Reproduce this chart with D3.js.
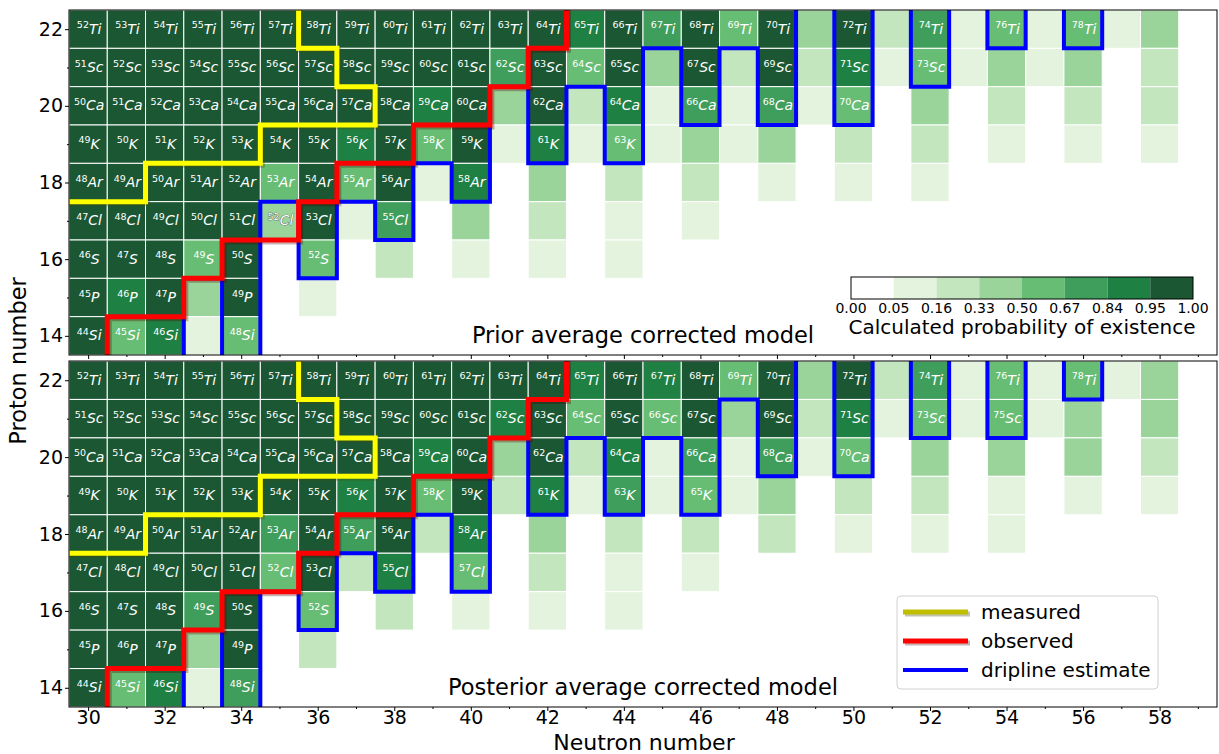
<!DOCTYPE html>
<html>
<head>
<meta charset="utf-8">
<script src="https://cdn.jsdelivr.net/npm/d3@7"></script>
<style>
body { margin: 0; background: #fff; }
text { font-family: "DejaVu Sans", sans-serif; }
</style>
</head>
<body>
<svg width="1219" height="754"></svg>
<script>
// neutron numbers of the columns, proton numbers of the rows
var neutrons = [30,31,32,33,34,35,36,37,38,39,40,41,42,43,44,45,46,47,48,49,50,51,52,53,54,55,56,57,58]
var protons = [22,21,20,19,18,17,16,15,14]
var elements = {14: 'Si', 15: 'P', 16: 'S', 17: 'Cl', 18: 'Ar', 19: 'K', 20: 'Ca', 21: 'Sc', 22: 'Ti'}

var binEdges = [0, 0.05, 0.16, 0.33, 0.50, 0.67, 0.84, 0.95, 1.00]
var binColors = ['#ffffff', '#e3f3dd', '#c3e6bf', '#9ad49a', '#67bd73', '#3f9e5b', '#1f8043', '#1b5733']

// probability of existence, prior model, one array per element (N = 30..58)
var priorTi = [.99,.99,.99,.99,.99,.99,.99,.99,.99,.99,.99,.99,.99,.9,.99,.75,.99,.6,.99,.4,.99,.25,.75,.1,.6,.1,.6,.1,.4]
var priorSc = [.99,.99,.99,.99,.99,.99,.99,.99,.99,.99,.99,.75,.99,.6,.99,.4,.99,.25,.99,.25,.9,.1,.6,.1,.4,.1,.4,0,.25]
var priorCa = [.99,.99,.99,.99,.99,.99,.99,.99,.99,.9,.99,.4,.99,.25,.9,.1,.75,.1,.75,.1,.6,0,.4,0,.25,0,.25,0,.25]
var priorK  = [.99,.99,.99,.99,.99,.99,.99,.9,.99,.6,.99,.1,.9,.1,.6,.1,.4,.1,.4,0,.25,0,.25,0,.1,0,.1,0,.1]
var priorAr = [.99,.99,.99,.99,.99,.6,.99,.6,.99,.1,.9,0,.4,0,.25,0,.25,0,.1,0,.1,0,.1,0,0,0,0,0,0]
var priorCl = [.99,.99,.99,.99,.99,.48,.99,.1,.75,0,.4,0,.25,0,.1,0,.1,0,0,0,0,0,0,0,0,0,0,0,0]
var priorS  = [.99,.99,.99,.6,.99,0,.6,0,.25,0,.1,0,.1,0,.1,0,0,0,0,0,0,0,0,0,0,0,0,0,0]
var priorP  = [.99,.9,.99,.4,.99,0,.1,0,0,0,0,0,0,0,0,0,0,0,0,0,0,0,0,0,0,0,0,0,0]
var priorSi = [.99,.6,.9,.1,.6,0,0,0,0,0,0,0,0,0,0,0,0,0,0,0,0,0,0,0,0,0,0,0,0]

// posterior model
var postTi = [.99,.99,.99,.99,.99,.99,.99,.99,.99,.99,.99,.99,.99,.9,.99,.9,.99,.6,.99,.4,.99,.25,.75,.1,.6,.1,.6,.1,.4]
var postSc = [.99,.99,.99,.99,.99,.99,.99,.99,.99,.99,.99,.9,.99,.6,.99,.6,.99,.4,.99,.25,.9,.1,.6,.1,.6,.1,.4,0,.4]
var postCa = [.99,.99,.99,.99,.99,.99,.99,.99,.99,.9,.99,.4,.99,.25,.9,.1,.75,.1,.75,.1,.6,0,.4,0,.4,0,.4,0,.25]
var postK  = [.99,.99,.99,.99,.99,.99,.99,.9,.99,.6,.99,.25,.9,.1,.75,.1,.6,.1,.4,0,.25,0,.25,0,.1,0,.1,0,.1]
var postAr = [.99,.99,.99,.99,.99,.75,.99,.75,.99,.25,.9,0,.4,0,.25,0,.25,0,.25,0,.1,0,.1,0,.1,0,0,0,0]
var postCl = [.99,.99,.99,.99,.99,.6,.99,.25,.9,0,.6,0,.25,0,.1,0,.1,0,0,0,0,0,0,0,0,0,0,0,0]
var postS  = [.99,.99,.99,.75,.99,0,.6,0,.25,0,.1,0,.1,0,.1,0,0,0,0,0,0,0,0,0,0,0,0,0,0]
var postP  = [.99,.99,.99,.4,.99,0,.25,0,0,0,0,0,0,0,0,0,0,0,0,0,0,0,0,0,0,0,0,0,0]
var postSi = [.99,.6,.9,.1,.75,0,0,0,0,0,0,0,0,0,0,0,0,0,0,0,0,0,0,0,0,0,0,0,0]

// lowest bound proton number for each N (13 = below the chart, 23 = none shown)
var priorDrip = [13,13,13,16,13,18,16,18,17,19,18,21,19,21,19,22,20,22,20,23,20,23,21,23,22,23,22,23,23]
var postDrip  = [13,13,13,16,13,17,16,18,17,19,17,21,19,21,19,21,19,22,20,23,20,23,21,23,21,23,22,23,23]

// [N, Z] corners of the measured and observed boundaries
var measuredLine = [[29,17.5],[31.5,17.5],[31.5,18.5],[34.5,18.5],[34.5,19.5],[37.5,19.5],[37.5,20.5],[36.5,20.5],[36.5,21.5],[35.5,21.5],[35.5,23]]
var observedLine = [[30.5,13],[30.5,14.5],[32.5,14.5],[32.5,15.5],[33.5,15.5],[33.5,16.5],[35.5,16.5],[35.5,17.5],[36.5,17.5],[36.5,18.5],[38.5,18.5],[38.5,19.5],[40.5,19.5],[40.5,20.5],[41.5,20.5],[41.5,21.5],[42.5,21.5],[42.5,23]]

var priorExtraLabels = [[35, 17]]

var svg = d3.select('svg')
var mapX = d3.scaleLinear().domain([29.5, 59.5]).range([69, 1217])
var colorOf = d3.scaleThreshold().domain(binEdges.slice(1, 8)).range(binColors)

var panels = [
    {title: 'Prior average corrected model', top: 10, bottom: 355, drip: priorDrip, extra: priorExtraLabels,
     rows: [priorTi, priorSc, priorCa, priorK, priorAr, priorCl, priorS, priorP, priorSi]},
    {title: 'Posterior average corrected model', top: 361, bottom: 707, drip: postDrip, extra: [],
     rows: [postTi, postSc, postCa, postK, postAr, postCl, postS, postP, postSi]}
]

function shade(c) {
    var r = d3.rgb(c)
    return d3.rgb(r.r * 0.3, r.g * 0.3, r.b * 0.3)
}

panels.forEach(function(p, k){
    var mapY = d3.scaleLinear().domain([13.5, 22.5]).range([p.bottom, p.top])
    var g = svg.append('g')

    svg.append('clipPath').attr('id', 'clip' + k)
        .append('rect')
        .attr('x', mapX(29.5)).attr('y', p.top)
        .attr('width', mapX(59.5) - mapX(29.5)).attr('height', p.bottom - p.top)

    var cells = []
    p.rows.forEach(function(vals, r){
        vals.forEach(function(v, i){
            if (v > 0) cells.push({n: neutrons[i], z: protons[r], p: v, i: i})
        })
    })

    g.selectAll('rect.cell')
        .data(cells)
        .enter()
        .append('rect')
        .attr('x', function(d){ return mapX(d.n - 0.5) })
        .attr('y', function(d){ return mapY(d.z + 0.5) })
        .attr('width', function(d){ return mapX(d.n + 0.5) - mapX(d.n - 0.5) })
        .attr('height', function(d){ return mapY(d.z - 0.5) - mapY(d.z + 0.5) })
        .attr('fill', function(d){ return colorOf(d.p) })
        .attr('stroke', '#ffffff')
        .attr('stroke-width', 1)

    // labels for bound nuclei
    var labelled = cells.filter(function(d){ return d.z >= p.drip[d.i] })
    p.extra.forEach(function(e){
        labelled.push({n: e[0], z: e[1], halo: true})
    })

    var labs = g.selectAll('text.lab')
        .data(labelled)
        .enter()
        .append('text')
        .attr('x', function(d){ return mapX(d.n) + 1 })
        .attr('y', function(d){ return mapY(d.z) + 4.5 })
        .attr('text-anchor', 'middle')
        .attr('fill', '#ffffff')
        .attr('stroke', function(d){ return d.halo ? '#3a3a3a' : 'none' })
        .attr('stroke-width', 0.7)
        .style('paint-order', 'stroke')
    labs.append('tspan')
        .attr('font-size', 9.5)
        .attr('dy', -5.5)
        .text(function(d){ return d.n + d.z })
    labs.append('tspan')
        .attr('font-size', 14)
        .attr('font-style', 'italic')
        .attr('dy', 5.5)
        .text(function(d){ return elements[d.z] })

    // boundary lines
    var line = d3.line()
        .x(function(d){ return mapX(d[0]) })
        .y(function(d){ return mapY(d[1]) })

    var dripPts = []
    neutrons.forEach(function(n, i){
        var zb = p.drip[i] - 0.5
        if (p.drip[i] <= 13) zb = 12
        if (p.drip[i] >= 23) zb = 24
        dripPts.push([n - 0.5, zb], [n + 0.5, zb])
    })

    var lines = g.append('g').attr('clip-path', 'url(#clip' + k + ')')

    lines.append('path')
        .attr('d', line(dripPts))
        .attr('fill', 'none')
        .attr('stroke', '#0000ff')
        .attr('stroke-width', 4)
        .attr('stroke-linejoin', 'miter')

    ;[[observedLine, '#ff0000'], [measuredLine, '#ffff00']].forEach(function(l){
        lines.append('path')
            .attr('d', line(l[0]))
            .attr('transform', 'translate(2,2)')
            .attr('fill', 'none')
            .attr('stroke', shade(l[1]))
            .attr('stroke-opacity', 0.3)
            .attr('stroke-width', 5)
        lines.append('path')
            .attr('d', line(l[0]))
            .attr('fill', 'none')
            .attr('stroke', l[1])
            .attr('stroke-width', 5)
            .attr('stroke-linejoin', 'miter')
    })

    // axes
    var yMajor = d3.axisLeft(mapY).tickValues([14, 16, 18, 20, 22]).tickSize(4).tickPadding(2).tickFormat(d3.format('d'))
    var yMinor = d3.axisLeft(mapY).tickValues([15, 17, 19, 21]).tickSize(2).tickFormat('')
    var xMajor = d3.axisBottom(mapX).tickValues(d3.range(30, 59, 2)).tickSize(4)
        .tickFormat(k == 1 ? d3.format('d') : '')
    var xMinor = d3.axisBottom(mapX).tickValues(d3.range(31, 60, 2)).tickSize(2).tickFormat('')

    ;[yMajor, yMinor].forEach(function(a){
        g.append('g').attr('transform', 'translate(' + mapX(29.5) + ',0)').call(a)
    })
    var xg = g.append('g').attr('transform', 'translate(0,' + p.bottom + ')').call(xMajor)
    g.append('g').attr('transform', 'translate(0,' + p.bottom + ')').call(xMinor)
    xg.selectAll('.tick text').attr('y', 17).attr('dy', 0)

    g.selectAll('.domain').remove()
    g.selectAll('.tick text')
        .attr('font-size', 19)
        .attr('font-family', 'DejaVu Sans')
        .attr('fill', '#000')

    g.append('rect')
        .attr('x', mapX(29.5)).attr('y', p.top)
        .attr('width', mapX(59.5) - mapX(29.5)).attr('height', p.bottom - p.top)
        .attr('fill', 'none')
        .attr('stroke', '#000')
        .attr('stroke-width', 1)

    g.append('text')
        .attr('x', 643)
        .attr('y', k == 0 ? 343 : 695)
        .attr('text-anchor', 'middle')
        .attr('font-size', 22.5)
        .text(p.title)
})

// colour bar
var cbX = d3.scaleLinear().domain([0, 8]).range([851, 1193])
var cb = svg.append('g')
cb.selectAll('rect.bin')
    .data(binColors)
    .enter()
    .append('rect')
    .attr('x', function(d, i){ return cbX(i) })
    .attr('y', 277)
    .attr('width', cbX(1) - cbX(0))
    .attr('height', 22)
    .attr('fill', function(d){ return d })
cb.append('rect')
    .attr('x', cbX(0)).attr('y', 277)
    .attr('width', cbX(8) - cbX(0)).attr('height', 22)
    .attr('fill', 'none').attr('stroke', '#000').attr('stroke-width', 1)
cb.selectAll('text.tk')
    .data(binEdges)
    .enter()
    .append('text')
    .attr('x', function(d, i){ return cbX(i) })
    .attr('y', 313)
    .attr('text-anchor', 'middle')
    .attr('font-size', 14)
    .text(function(d){ return d3.format('.2f')(d) })
cb.append('text')
    .attr('x', 1022).attr('y', 334)
    .attr('text-anchor', 'middle')
    .attr('font-size', 20)
    .text('Calculated probability of existence')

// legend
var legendItems = [
    {label: 'measured', color: '#bfbf00', shadow: true},
    {label: 'observed', color: '#ff0000', shadow: true},
    {label: 'dripline estimate', color: '#0000ff', shadow: false}
]
var leg = svg.append('g').attr('transform', 'translate(897,596)')
leg.append('rect')
    .attr('width', 261).attr('height', 93).attr('rx', 4)
    .attr('fill', '#ffffff').attr('fill-opacity', 0.8)
    .attr('stroke', '#d0d0d0')
var rowsG = leg.selectAll('g.item')
    .data(legendItems)
    .enter()
    .append('g')
    .attr('transform', function(d, i){ return 'translate(0,' + (16 + i * 29) + ')' })
rowsG.filter(function(d){ return d.shadow })
    .append('line')
    .attr('x1', 8).attr('x2', 73).attr('y1', 2).attr('y2', 2)
    .attr('stroke', function(d){ return shade(d.color) })
    .attr('stroke-opacity', 0.3)
    .attr('stroke-width', 5)
rowsG.append('line')
    .attr('x1', 6).attr('x2', 71).attr('y1', 0).attr('y2', 0)
    .attr('stroke', function(d){ return d.color })
    .attr('stroke-width', function(d){ return d.shadow ? 5 : 4 })
rowsG.append('text')
    .attr('x', 84).attr('y', 7)
    .attr('font-size', 20)
    .text(function(d){ return d.label })

// axis titles
svg.append('text')
    .attr('transform', 'translate(26,361) rotate(-90)')
    .attr('text-anchor', 'middle')
    .attr('font-size', 22.5)
    .text('Proton number')
svg.append('text')
    .attr('x', 644).attr('y', 749.5)
    .attr('text-anchor', 'middle')
    .attr('font-size', 22)
    .text('Neutron number')
</script>
</body>
</html>
